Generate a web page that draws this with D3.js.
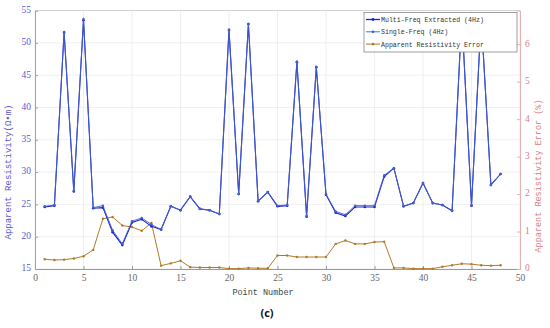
<!DOCTYPE html>
<html><head><meta charset="utf-8">
<script src="https://cdn.jsdelivr.net/npm/d3@7"></script>
<style>body{margin:0;background:#fff}svg{display:block}</style>
</head><body>
<script>
const points = d3.range(1, 49);
const singleFreq = [24.7,24.9,51.7,27.1,53.7,24.5,24.8,21.0,18.9,22.4,22.9,21.9,21.1,24.7,24.1,26.2,24.3,24.1,23.5,52.0,26.6,52.9,25.5,26.9,24.8,24.9,47.1,23.2,46.3,26.6,23.9,23.4,24.8,24.8,24.8,29.5,30.6,24.7,25.2,28.3,25.2,24.9,24.0,54.3,24.8,54.0,28.0,29.7];
const multiFreq  = [24.6,24.8,51.6,27.0,53.5,24.4,24.5,20.7,18.7,22.2,22.7,21.6,21.1,24.7,24.1,26.2,24.3,24.1,23.5,52.0,26.6,52.9,25.5,26.9,24.7,24.8,47.0,23.1,46.2,26.5,23.7,23.2,24.6,24.6,24.6,29.3,30.6,24.7,25.2,28.3,25.2,24.9,24.0,54.2,24.8,53.9,28.0,29.7];
const errorPct   = [0.26,0.24,0.25,0.28,0.34,0.51,1.34,1.39,1.16,1.12,1.02,1.23,0.09,0.15,0.22,0.05,0.04,0.04,0.04,0.01,0.01,0.03,0.02,0.02,0.36,0.36,0.32,0.32,0.32,0.32,0.67,0.76,0.67,0.67,0.72,0.73,0.03,0.03,0.01,0.01,0.01,0.06,0.10,0.14,0.13,0.10,0.09,0.10];
const xTicks = [0,5,10,15,20,25,30,35,40,45,50];
const yLeftTicks = [15,20,25,30,35,40,45,50,55];
const yRightTicks = [0,1,2,3,4,5,6];
const legendLabels = ["Multi-Freq Extracted (4Hz)", "Single-Freq (4Hz)", "Apparent Resistivity Error"];

const W = 550, H = 328;
const L = 35, R = 520, T = 10.5, B = 269;
const cMulti = "#1e1ed6", cSingle = "#4262c6", cErr = "#b07a2a";
const cLeftTxt = "#5a5ad0", cRightTxt = "#d98080";

const svg = d3.select("body").append("svg").attr("width", W).attr("height", H);
const x = d3.scaleLinear().domain([0, 50]).range([L, R]);
const yL = d3.scaleLinear().domain([15, 55]).range([B, T]);
const yR = d3.scaleLinear().domain([0, 6.9]).range([B, T]);

// grid
const g = svg.append("g");
g.selectAll(".vg").data(xTicks).join("line").attr("x1", d => x(d)).attr("x2", d => x(d))
  .attr("y1", T).attr("y2", B).attr("stroke", "#ebebeb").attr("stroke-width", 0.8);
g.selectAll(".hg").data(yLeftTicks).join("line").attr("y1", d => yL(d)).attr("y2", d => yL(d))
  .attr("x1", L).attr("x2", R).attr("stroke", "#ebebeb").attr("stroke-width", 0.8);

// axes
const fTick = "'Liberation Serif', serif";
const fMono = "'Liberation Mono', monospace";
const xAxis = svg.append("g").attr("transform", `translate(0,${B})`)
  .call(d3.axisBottom(x).tickValues(xTicks).tickSize(-3).tickPadding(5).tickFormat(d3.format("d")));
xAxis.select(".domain").attr("stroke", "#999");
xAxis.selectAll(".tick line").attr("stroke", "#999");
xAxis.selectAll("text").attr("fill", "#666").style("font-family", fTick).style("font-size", "9.5px");

const yAxisL = svg.append("g").attr("transform", `translate(${L},0)`)
  .call(d3.axisLeft(yL).tickValues(yLeftTicks).tickSize(-3).tickPadding(4).tickFormat(d3.format("d")));
yAxisL.select(".domain").attr("stroke", "#9a9ad8");
yAxisL.selectAll(".tick line").attr("stroke", "#9a9ad8");
yAxisL.selectAll("text").attr("fill", cLeftTxt).style("font-family", fTick).style("font-size", "9.5px").attr("dy", "0.2em");

const yAxisR = svg.append("g").attr("transform", `translate(${R},0)`)
  .call(d3.axisRight(yR).tickValues(yRightTicks).tickSize(-3).tickPadding(5).tickFormat(d3.format("d")));
yAxisR.select(".domain").attr("stroke", "#e8b0b0");
yAxisR.selectAll(".tick line").attr("stroke", "#e8b0b0");
yAxisR.selectAll("text").attr("fill", cRightTxt).style("font-family", fTick).style("font-size", "9.5px").attr("dy", "0.2em");

// top border
svg.append("line").attr("x1", L).attr("x2", R).attr("y1", T).attr("y2", T).attr("stroke", "#ccc").attr("stroke-width", 0.8);

// series
function drawSeries(vals, yS, color, w, r) {
  const line = d3.line().x((d, i) => x(points[i])).y(d => yS(d));
  svg.append("path").datum(vals).attr("d", line).attr("fill", "none").attr("stroke", color).attr("stroke-width", w);
  svg.append("g").selectAll("circle").data(vals).join("circle")
    .attr("cx", (d, i) => x(points[i])).attr("cy", d => yS(d)).attr("r", r).attr("fill", color);
}
drawSeries(errorPct, yR, cErr, 1, 1.2);
drawSeries(multiFreq, yL, cMulti, 1.1, 1.3);
drawSeries(singleFreq, yL, cSingle, 0.9, 1.2);

// labels
svg.append("text").attr("transform", `translate(11,172) rotate(-90)`).attr("text-anchor", "middle")
  .style("font-family", fMono).style("font-size", "9px").attr("fill", cLeftTxt).text("Apparent Resistivity(Ω•m)");
svg.append("text").attr("transform", `translate(541,176) rotate(-90)`).attr("text-anchor", "middle")
  .style("font-family", fMono).style("font-size", "8.5px").attr("fill", cRightTxt).text("Apparent Resistivity Error (%)");
svg.append("text").attr("x", 263).attr("y", 295).attr("text-anchor", "middle")
  .style("font-family", fMono).style("font-size", "8.5px").attr("fill", "#444").text("Point Number");
svg.append("text").attr("x", 267).attr("y", 317).attr("text-anchor", "middle")
  .style("font-family", "'Open Sans', sans-serif").attr("font-weight", "bold").style("font-size", "11px").attr("fill", "#111").text("(c)");

// legend
const lg = svg.append("g");
lg.append("rect").attr("x", 364).attr("y", 12.5).attr("width", 153).attr("height", 39.5)
  .attr("fill", "#fff").attr("stroke", "#888").attr("stroke-width", 0.8);
const lc = [cMulti, cSingle, cErr];
const lw = [1.3, 0.9, 1];
legendLabels.forEach((t, i) => {
  const yy = 19.5 + i * 12.3;
  lg.append("line").attr("x1", 366).attr("x2", 380).attr("y1", yy).attr("y2", yy).attr("stroke", lc[i]).attr("stroke-width", lw[i]);
  lg.append("circle").attr("cx", 373).attr("cy", yy).attr("r", 1.4).attr("fill", lc[i]);
  lg.append("text").attr("x", 381).attr("y", yy + 2.5).style("font-family", fMono).style("font-size", "6.6px")
    .attr("fill", "#333").text(t);
});
</script>
</body></html>
